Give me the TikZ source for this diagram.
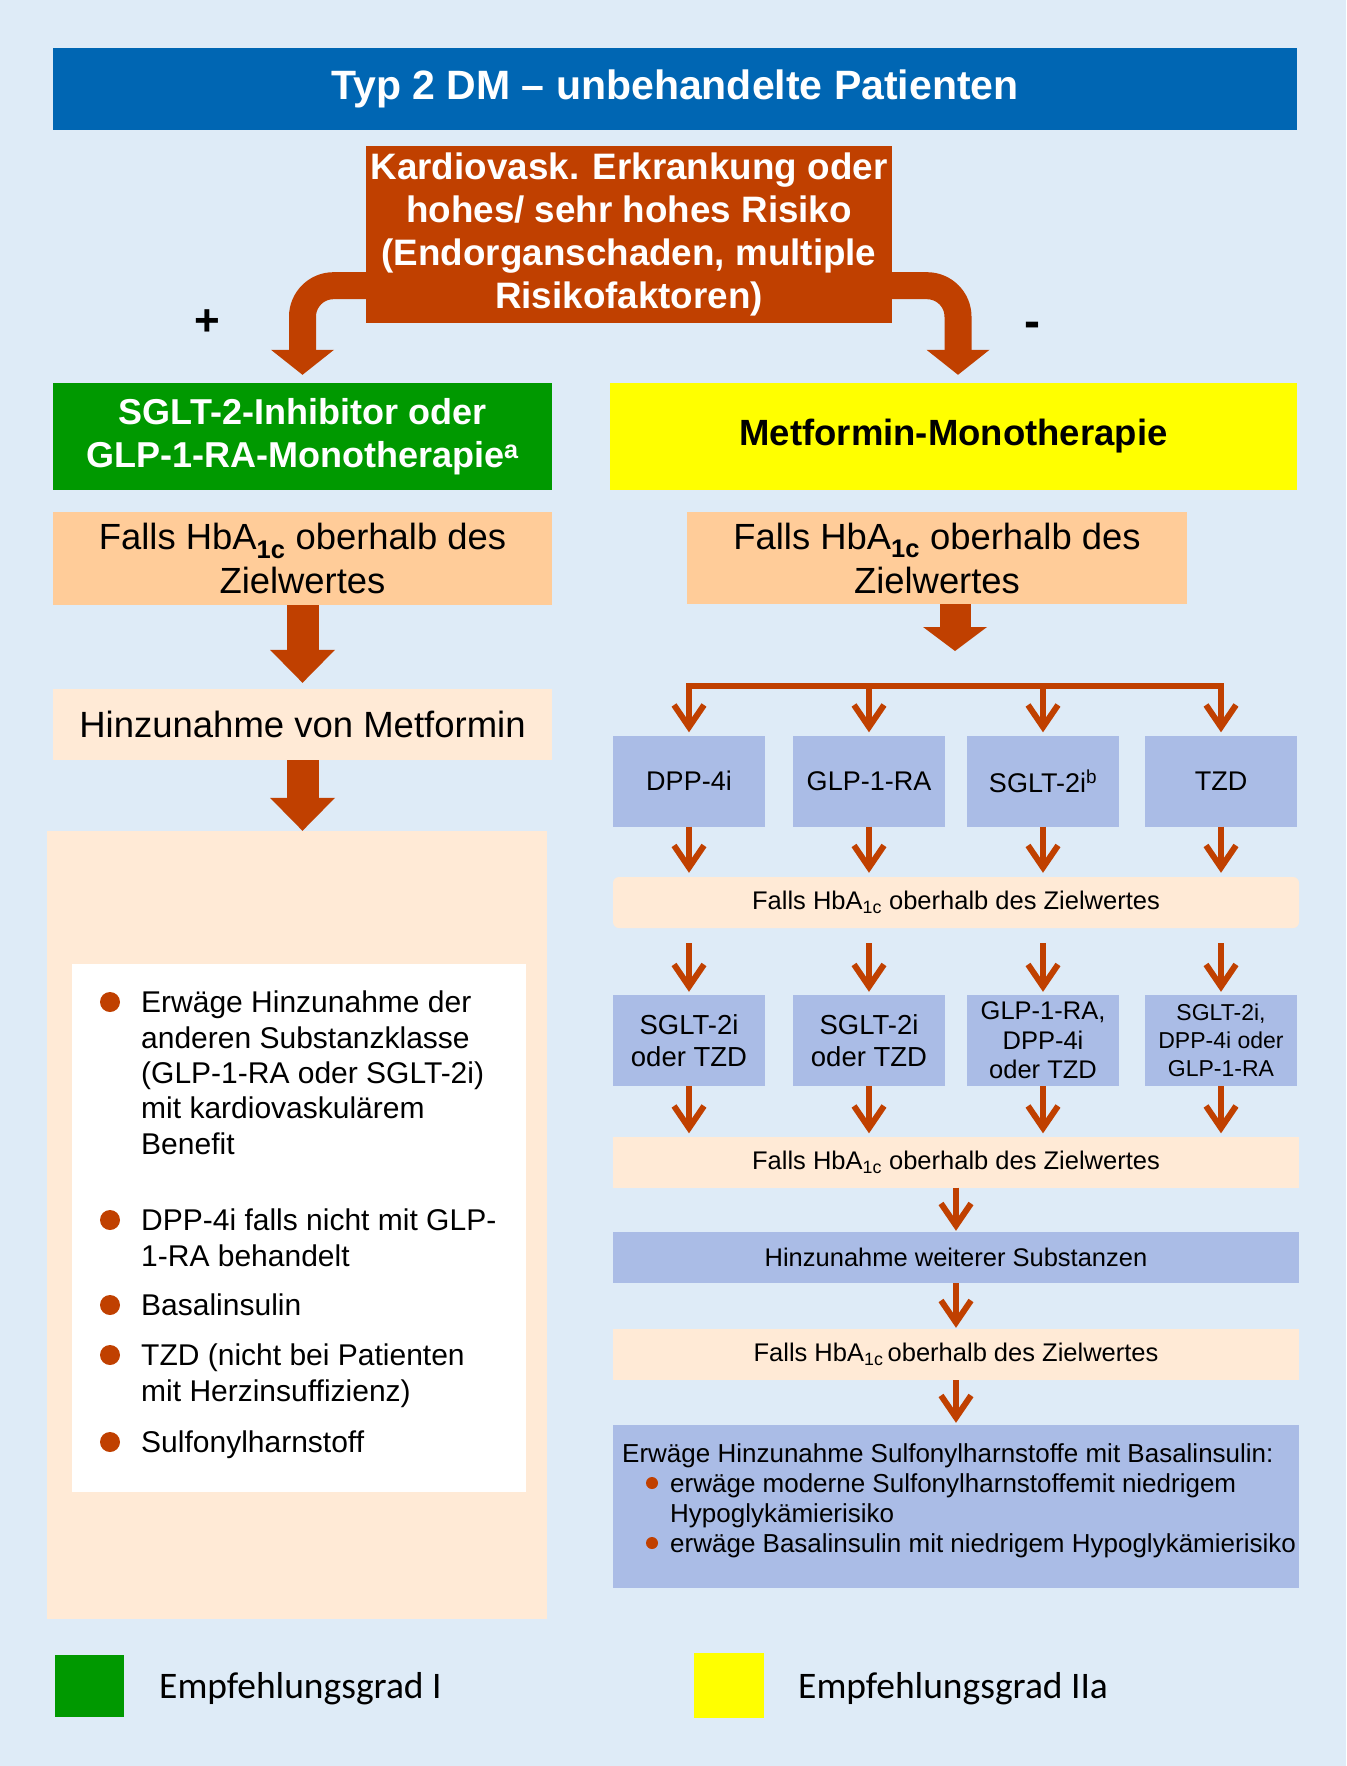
\documentclass[tikz,border=0pt]{standalone}
\usepackage{fontspec}
\setmainfont{Liberation Sans}
\newfontfamily\legendfont{Carlito}
\usetikzlibrary{arrows.meta}

\definecolor{bgblue}{RGB}{222,235,247}
\definecolor{titleblue}{RGB}{0,102,179}
\definecolor{brick}{RGB}{192,64,0}
\definecolor{grgreen}{RGB}{0,153,0}
\definecolor{gryellow}{RGB}{255,255,0}
\definecolor{peach}{RGB}{255,204,153}
\definecolor{lightpeach}{RGB}{255,234,214}
\definecolor{lavender}{RGB}{170,188,230}

\newcommand{\fs}[2]{\fontsize{#1}{#2}\selectfont}
\newcommand{\hba}{HbA\textsubscript{1c}}
\newcommand{\hbab}{HbA\textsubscript{\bfseries 1c}}

\begin{document}
\begin{tikzpicture}[x=1pt,y=-1pt,
  box/.style={inner sep=0pt, align=center},
  colbox/.style={box, fill=lavender, minimum width=152pt, minimum height=91pt},
  smallpeach/.style={box, fill=lightpeach, minimum width=686pt, minimum height=51pt, font=\fs{25.5}{30}},
  item/.style={anchor=north west, inner sep=0pt, align=left, font=\fs{30}{35.3}},
  blockarr/.style={draw=brick, line width=32pt, -{Triangle[length=33pt,width=65pt,line width=0pt]}},
  curvarr/.style={draw=brick, line width=27pt, rounded corners=31pt, shorten >=8pt, -{Triangle[length=25pt,width=63pt,line width=0pt]}},
  thinarr/.style={draw=brick, line width=6pt, -{Straight Barb[length=22pt,width=30pt]}}]
\fill[bgblue] (0,0) rectangle (1346,1766);
\useasboundingbox (0,0) rectangle (1346,1766);

\node[box, fill=titleblue, minimum width=1244pt, minimum height=82pt, text=white, font=\bfseries\fs{41}{49}] (title) at (675,89) {Typ 2 DM – unbehandelte Patienten};
\node[box, fill=brick, minimum width=526pt, minimum height=177pt, text=white, font=\bfseries\fs{36.8}{43}] (risk) at (629,234.5) {Kardiovask. Erkrankung oder\\hohes/ sehr hohes Risiko\\(Endorganschaden, multiple\\Risikofaktoren)};
\node[anchor=base, inner sep=0pt, font=\bfseries\fs{44}{50}] (plus) at (207.5,335) {+};
\node[anchor=base, inner sep=0pt, font=\bfseries\fs{48}{54}] (minus) at (1032,337.5) {-};

% linke Spalte
\node[box, fill=grgreen, minimum width=499pt, minimum height=107pt, text=white, font=\bfseries\fs{36}{43}] (sglt) at (302.5,436.5) {SGLT-2-Inhibitor oder\\GLP-1-RA-Monotherapie\textsuperscript{a}};
\node[box, fill=peach, minimum width=499pt, minimum height=93pt, font=\fs{36.4}{44}] (hbaL) at (302.5,558.5) {Falls \hbab{} oberhalb des\\Zielwertes};
\node[box, fill=lightpeach, minimum width=499pt, minimum height=71pt, font=\fs{36.5}{44}] (hinz) at (302.5,724.5) {Hinzunahme von Metformin};
\node[fill=lightpeach, minimum width=500pt, minimum height=788pt, inner sep=0pt] (bigbox) at (297,1225) {};
\node[fill=white, minimum width=454pt, minimum height=528pt, inner sep=0pt] (listbox) at (299,1228) {};
\node[item] (itemA) at (141,991) {Erwäge Hinzunahme der\\anderen Substanzklasse\\(GLP-1-RA oder SGLT-2i)\\mit kardiovaskulärem\\Benefit};
\node[item] (itemB) at (141,1209) {DPP-4i falls nicht mit GLP-\\1-RA behandelt};
\node[item] (itemC) at (141,1294) {Basalinsulin};
\node[item] (itemD) at (141,1344) {TZD (nicht bei Patienten\\mit Herzinsuffizienz)};
\node[item] (itemE) at (141,1431) {Sulfonylharnstoff};
\foreach \y in {1002,1220,1305,1355,1442}
  \fill[brick] (110,\y) circle (10pt);

% rechte Spalte
\node[box, fill=gryellow, minimum width=687pt, minimum height=107pt, font=\bfseries\fs{36.5}{43}] (metf) at (953.5,436.5) {Metformin-Monotherapie};
\node[box, fill=peach, minimum width=500pt, minimum height=92pt, font=\fs{36.4}{44}] (hbaR) at (937,558) {Falls \hbab{} oberhalb des\\Zielwertes};
\coordinate (fork) at (955,686);
\node[colbox, font=\fs{27}{32}] (dpp) at (689,781) {DPP-4i};
\node[colbox, font=\fs{27}{32}] (glp) at (869,781) {GLP-1-RA};
\node[colbox, font=\fs{27}{32}] (sglt2) at (1043,781) {SGLT-2i\textsuperscript{b}};
\node[colbox, font=\fs{27}{32}] (tzd) at (1221,781) {TZD};
\node[smallpeach, rounded corners=6pt] (hbaA) at (956,902.5) {Falls \hba{} oberhalb des Zielwertes};
\node[colbox, font=\fs{27.5}{32}] (addA) at (689,1040.5) {SGLT-2i\\oder TZD};
\node[colbox, font=\fs{27.5}{32}] (addB) at (869,1040.5) {SGLT-2i\\oder TZD};
\node[colbox, font=\fs{25.5}{29.5}] (addC) at (1043,1040.5) {GLP-1-RA,\\DPP-4i\\oder TZD};
\node[colbox, font=\fs{23}{28}] (addD) at (1221,1040.5) {SGLT-2i,\\DPP-4i oder\\GLP-1-RA};
\node[smallpeach] (hbaB) at (956,1162) {Falls \hba{} oberhalb des Zielwertes};
\node[box, fill=lavender, minimum width=686pt, minimum height=51pt, font=\fs{25.5}{30}] (more) at (956,1257.5) {Hinzunahme weiterer Substanzen};
\node[smallpeach] (hbaC) at (956,1354.5) {Falls \hba\,oberhalb des Zielwertes};
\node[fill=lavender, minimum width=686pt, minimum height=163pt, inner sep=0pt] (final) at (956,1506.5) {};
\node[anchor=north west, inner sep=0pt, align=left, font=\fs{26}{30.3}] (finaltxt) at (622,1443) {Erwäge Hinzunahme Sulfonylharnstoffe mit Basalinsulin:\\\hspace*{48pt}erwäge moderne Sulfonylharnstoffemit niedrigem\\\hspace*{48pt}Hypoglykämierisiko\\\hspace*{48pt}erwäge Basalinsulin mit niedrigem Hypoglykämierisiko};
\foreach \y in {1483,1543}
  \fill[brick] (652,\y) circle (6pt);

% Legende
\node[fill=grgreen, minimum width=69pt, minimum height=62pt, inner sep=0pt] (legI) at (89.5,1685.5) {};
\node[anchor=west, inner sep=0pt, font=\legendfont\fs{37.5}{45}] (legItxt) at (159,1689) {Empfehlungsgrad I};
\node[fill=gryellow, minimum width=70pt, minimum height=65pt, inner sep=0pt] (legII) at (729,1685.5) {};
\node[anchor=west, inner sep=0pt, font=\legendfont\fs{37.5}{45}] (legIItxt) at (798,1689) {Empfehlungsgrad IIa};

\draw[curvarr] ([yshift=37.5pt]risk.south west) -| (sglt.north);
\draw[curvarr] ([yshift=37.5pt]risk.south east) -| ([xshift=4.5pt]metf.north);
\draw[blockarr, shorten >=6pt] (hbaL) -- (hinz);
\draw[blockarr] (hinz.south) -- (hinz.south |- bigbox.north);
\draw[blockarr, line width=31pt, shorten >=35pt, -{Triangle[length=24pt,width=64pt,line width=0pt]}] (hbaR.south -| fork) -- (fork);
\foreach \n in {dpp,glp,sglt2,tzd}
  \draw[thinarr, shorten >=3pt] (fork) -| (\n.north);
\foreach \n in {dpp,glp,sglt2,tzd}
  \draw[thinarr, shorten >=4pt] (\n.south) -- (\n.south |- hbaA.north);
\foreach \n in {addA,addB,addC,addD}
  \draw[thinarr, shorten <=15pt, shorten >=3pt] (\n.north |- hbaA.south) -- (\n.north);
\foreach \n in {addA,addB,addC,addD}
  \draw[thinarr, shorten >=3pt] (\n.south) -- (\n.south |- hbaB.north);
\draw[thinarr, shorten >=1pt] (hbaB) -- (more);
\draw[thinarr, shorten >=1pt] (more) -- (hbaC);
\draw[thinarr, shorten >=2pt] (hbaC) -- (final);
\end{tikzpicture}
\end{document}
